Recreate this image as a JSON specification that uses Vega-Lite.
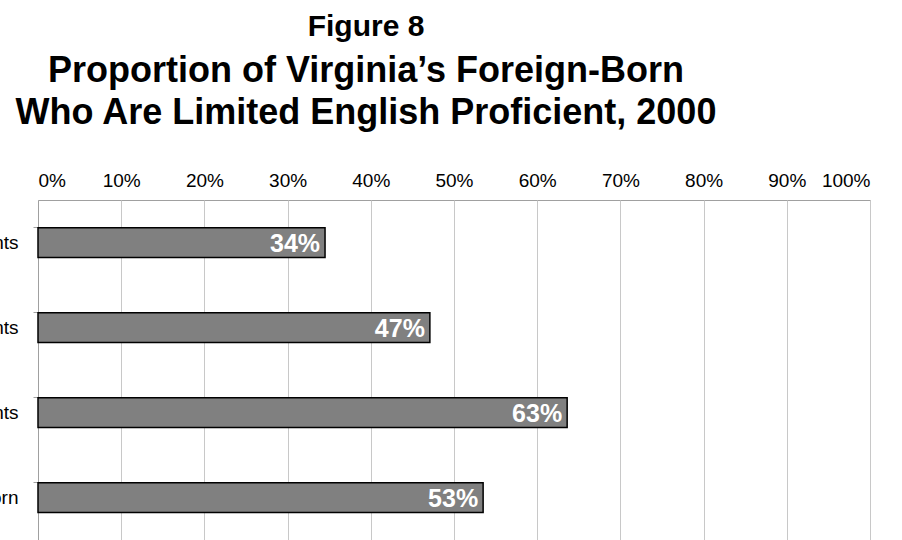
{
  "$schema": "https://vega.github.io/schema/vega-lite/v6.json",
  "autosize": "none",
  "width": 832,
  "height": 340,
  "padding": {"left": 38, "top": 200, "right": 32, "bottom": 0},
  "background": "white",
  "title": {
    "text": "Figure 8",
    "subtitle": ["Proportion of Virginia’s Foreign-Born", "Who Are Limited English Proficient, 2000"],
    "anchor": "middle",
    "dx": -88,
    "font": "Liberation Sans",
    "fontSize": 30,
    "fontWeight": "bold",
    "color": "black",
    "subtitleFont": "Liberation Sans",
    "subtitleFontSize": 36,
    "subtitleFontWeight": "bold",
    "subtitleColor": "black",
    "subtitleLineHeight": 42,
    "subtitlePadding": 12,
    "offset": 40
  },
  "data": {
    "values": [
      {"group": "Pre-1980 Immigrants", "value": 0.345, "label": "34%"},
      {"group": "1980s Immigrants", "value": 0.471, "label": "47%"},
      {"group": "1990s Immigrants", "value": 0.636, "label": "63%"},
      {"group": "All Foreign-Born", "value": 0.535, "label": "53%"}
    ]
  },
  "encoding": {
    "y": {
      "field": "group",
      "type": "nominal",
      "sort": null,
      "title": null,
      "scale": {"paddingInner": 0.65, "paddingOuter": 0.325},
      "axis": {
        "bandPosition": 0,
        "tickSize": 5,
        "tickColor": "#a0a0a0",
        "domainColor": "#a0a0a0",
        "labelFont": "Liberation Sans",
        "labelFontSize": 19,
        "labelColor": "black",
        "labelPadding": 15
      }
    }
  },
  "layer": [
    {
      "mark": {"type": "bar", "color": "#808080", "stroke": "black", "strokeWidth": 1.5},
      "encoding": {
        "x": {
          "field": "value",
          "type": "quantitative",
          "scale": {"domain": [0, 1], "nice": false},
          "title": null,
          "axis": {
            "orient": "top",
            "format": ".0%",
            "values": [0, 0.1, 0.2, 0.3, 0.4, 0.5, 0.6, 0.7, 0.8, 0.9, 1],
            "labelOverlap": false,
            "ticks": false,
            "domain": false,
            "grid": true,
            "gridColor": "#c8c8c8",
            "gridWidth": 1,
            "labelFont": "Liberation Sans",
            "labelFontSize": 19,
            "labelColor": "black",
            "labelPadding": 10
          }
        }
      }
    },
    {
      "mark": {"type": "text", "align": "right", "dx": -5, "dy": 1, "color": "white", "fontWeight": "bold", "fontSize": 25, "font": "Liberation Sans", "baseline": "middle"},
      "encoding": {
        "x": {"field": "value", "type": "quantitative"},
        "text": {"field": "label", "type": "nominal"}
      }
    }
  ],
  "config": {
    "view": {"stroke": "#a0a0a0", "strokeWidth": 1}
  }
}
